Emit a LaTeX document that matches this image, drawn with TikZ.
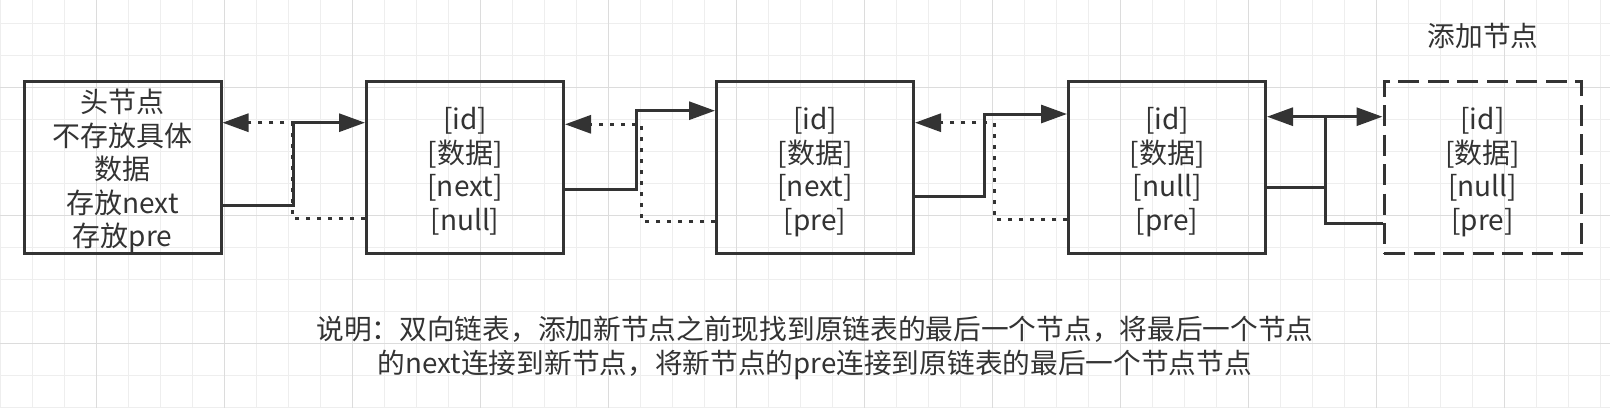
\documentclass[tikz,border=0pt]{standalone}
\usepackage{fontspec}
\setmainfont{Noto Sans CJK SC}
\usetikzlibrary{arrows.meta}
\definecolor{ink}{HTML}{333333}
\definecolor{gridminor}{HTML}{EEEEEE}
\definecolor{gridmajor}{HTML}{DCDCDC}
\newcommand{\boxlines}[1]{\raisebox{-6pt}[\height][\depth]{\begin{tabular}{@{}c@{}}#1\end{tabular}}}
\begin{document}
\begin{tikzpicture}[x=1pt,y=-1pt,
  listbox/.style={draw=ink, line width=3pt, minimum width=197pt, minimum height=172pt,
    inner sep=0pt, text=ink, font=\fontsize{28}{33.5}\selectfont},
  newbox/.style={listbox, dash pattern=on 21pt off 8.5pt},
  link/.style={draw=ink, line width=3pt, -{Triangle[length=26pt,width=18pt]}},
  dotlink/.style={link, dash pattern=on 4pt off 7pt},
  notetext/.style={text=ink, font=\fontsize{27.7}{33.5}\selectfont, align=center, inner sep=0pt}
]
\useasboundingbox (0,0) rectangle (1610,408);
\fill[white] (0,0) rectangle (1610,408);
% background grid
\foreach \i in {0,...,50} \draw[gridminor, line width=1pt] ({0.3+32*\i},0) -- ({0.3+32*\i},408);
\foreach \j in {0,...,12} \draw[gridminor, line width=1pt] (0,{23.3+32*\j}) -- (1610,{23.3+32*\j});
\foreach \i in {0,...,11} \draw[gridmajor, line width=1pt] ({96.3+128*\i},0) -- ({96.3+128*\i},408);
\foreach \j in {0,1,2} \draw[gridmajor, line width=1pt] (0,{87.3+128*\j}) -- (1610,{87.3+128*\j});

% nodes
\node[listbox] (head) at (122.5,167) {\boxlines{头节点\\不存放具体\\数据\\存放next\\存放pre}};
\node[listbox] (n2) at (465,167) {\boxlines{[id]\\\relax[数据]\\\relax[next]\\\relax[null]}};
\node[listbox] (n3) at (815,167) {\boxlines{[id]\\\relax[数据]\\\relax[next]\\\relax[pre]}};
\node[listbox] (n4) at (1167,167) {\boxlines{[id]\\\relax[数据]\\\relax[null]\\\relax[pre]}};
\node[newbox] (n5) at (1482.5,167) {\boxlines{[id]\\\relax[数据]\\\relax[null]\\\relax[pre]}};
\node[notetext] (addlabel) at (1483,36) {添加节点};
\node[notetext] (note) at (815,348) {说明：双向链表，添加新节点之前现找到原链表的最后一个节点，将最后一个节点\\的next连接到新节点，将新节点的pre连接到原链表的最后一个节点节点};

% head <-> n2
\draw[dotlink] ([yshift=-51pt]n2.west) -- ++(-73,0) |- ([yshift=44.3pt]head.east);
\draw[link] ([yshift=-38pt]head.east) -- ++(70.5,0) |- ([yshift=44.3pt]n2.west);
% n2 <-> n3
\draw[dotlink] ([yshift=-54pt]n3.west) -- ++(-74,0) |- ([yshift=42.7pt]n2.east);
\draw[link] ([yshift=-22.3pt]n2.east) -- ++(71.7,0) |- ([yshift=56.3pt]n3.west);
% n3 <-> n4
\draw[dotlink] ([yshift=-52pt]n4.west) -- ++(-73,0) |- ([yshift=44.3pt]n3.east);
\draw[link] ([yshift=-29pt]n3.east) -- ++(69,0) |- ([yshift=53pt]n4.west);
% n4 <-> n5
\draw[link] ([yshift=-56.3pt]n5.west) -- ++(-57.5,0) |- ([yshift=50.3pt]n4.east);
\draw[link] ([yshift=-20.5pt]n4.east) -- ++(58,0) |- ([yshift=50.3pt]n5.west);
\end{tikzpicture}
\end{document}
